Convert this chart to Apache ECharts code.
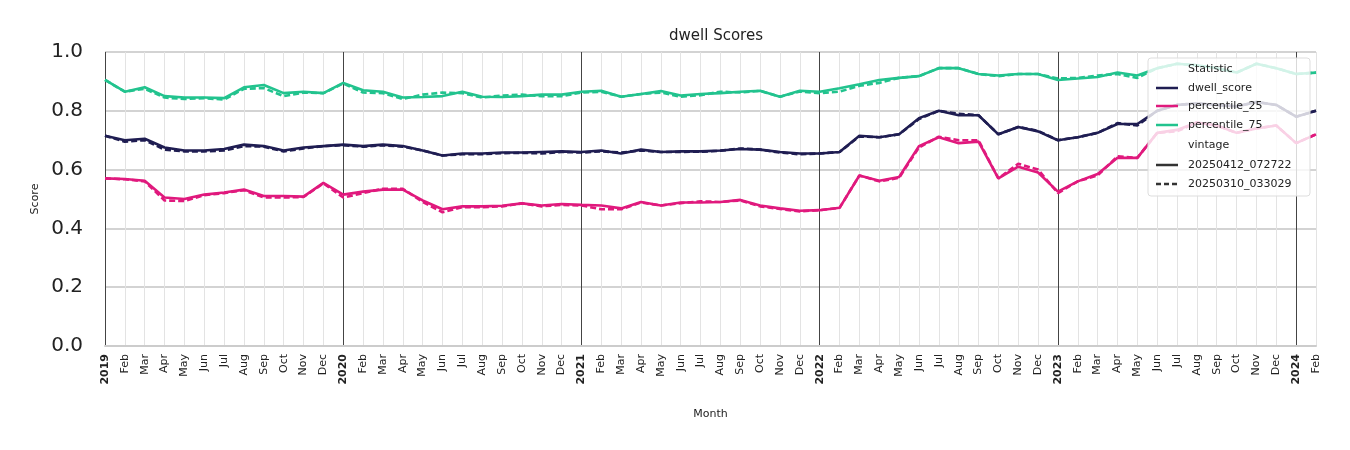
<!DOCTYPE html>
<html><head><meta charset="utf-8">
<script src="https://cdn.jsdelivr.net/npm/echarts@6/dist/echarts.min.js"></script>
<style>html,body{margin:0;padding:0;background:#fff}#c{width:1350px;height:450px}</style>
</head><body><div id="c"></div>
<script>
const months=['Jan','Feb','Mar','Apr','May','Jun','Jul','Aug','Sep','Oct','Nov','Dec'];
const categories=[];
for(let y=2019;y<=2024;y++){for(let m=0;m<12;m++){if(y===2024&&m>1)break;categories.push(m===0?String(y):months[m]);}}
const dwellNew=[.715,.70,.705,.675,.665,.665,.67,.685,.68,.665,.675,.68, .685,.68,.685,.68,.665,.648,.655,.655,.658,.658,.66,.662, .66,.665,.655,.668,.66,.662,.662,.665,.67,.668,.66,.655, .655,.66,.715,.71,.72,.775,.80,.785,.785,.72,.745,.73, .70,.71,.725,.755,.755,.80,.82,.825,.82,.815,.83,.82, .78,.80];
const dwellOld=[.715,.695,.70,.668,.662,.662,.665,.68,.678,.662,.672,.68, .683,.678,.683,.678,.665,.648,.652,.652,.656,.657,.655,.66, .658,.662,.658,.665,.66,.66,.661,.664,.672,.668,.658,.652, .655,.66,.713,.71,.72,.772,.80,.79,.785,.72,.745,.732, .70,.71,.725,.758,.75,.80,.82,.825,.82,.815,.83,.82, .78,.80];
const p25New=[.57,.568,.562,.505,.50,.515,.522,.532,.51,.51,.508,.555, .515,.525,.532,.532,.495,.465,.475,.475,.477,.485,.478,.483, .48,.478,.468,.49,.478,.488,.488,.49,.497,.478,.468,.46, .462,.47,.58,.562,.575,.68,.71,.69,.695,.57,.61,.59, .525,.56,.585,.64,.64,.725,.735,.76,.75,.725,.74,.75, .69,.72];
const p25Old=[.57,.567,.56,.495,.493,.513,.52,.53,.505,.505,.507,.553, .505,.52,.535,.535,.49,.455,.472,.472,.475,.485,.475,.48, .478,.465,.465,.488,.478,.486,.492,.49,.495,.475,.466,.458, .462,.47,.58,.56,.572,.675,.712,.70,.70,.57,.62,.60, .52,.56,.58,.645,.64,.725,.73,.76,.75,.725,.74,.75, .69,.72];
const p75New=[.905,.865,.88,.85,.845,.845,.843,.88,.888,.86,.865,.86, .895,.87,.865,.845,.847,.85,.865,.848,.847,.85,.855,.855, .865,.868,.848,.857,.867,.852,.857,.86,.865,.868,.848,.868, .865,.877,.89,.905,.912,.918,.945,.945,.925,.92,.925,.925, .905,.91,.915,.93,.92,.945,.96,.955,.945,.93,.96,.945, .925,.93];
const p75Old=[.905,.865,.875,.845,.84,.843,.838,.875,.877,.85,.862,.86, .893,.862,.86,.84,.855,.862,.86,.845,.852,.855,.85,.85, .862,.865,.848,.857,.862,.848,.853,.865,.862,.868,.848,.866, .86,.865,.885,.895,.912,.918,.945,.945,.925,.918,.925,.925, .91,.912,.92,.925,.912,.945,.96,.955,.945,.93,.96,.945, .925,.93];
const C={d:'#1f1d52',p25:'#e0197d',p75:'#22c38e'};
const splitColors=['#444'].concat(Array(11).fill('#e3e3e3'));
function s(name,data,color,dash,z){return{name,type:'line',data,symbol:'none',z,lineStyle:{color,width:2.6,type:dash?[6,3]:'solid'},itemStyle:{color}};}
const chart=echarts.init(document.getElementById('c'));
const lx=1148,ly=58,font='DejaVu Sans';
function legLine(y,color,dash){return{type:'line',shape:{x1:lx+8,y1:y,x2:lx+30,y2:y},style:{stroke:color,lineWidth:2.5,lineDash:dash?[5,3]:null},z:101};}
function legText(y,t){return{type:'text',x:lx+40,y:y,style:{text:t,fill:'#222',font:'11px '+font,verticalAlign:'middle'},z:101};}
chart.setOption({
  animation:false,
  textStyle:{fontFamily:font},
  title:{text:'dwell Scores',left:711,top:24,textAlign:'center',textStyle:{fontSize:15,fontWeight:'normal',color:'#222',fontFamily:font}},
  grid:{left:105,right:34,top:52,bottom:104},
  xAxis:{type:'category',data:categories,boundaryGap:false,name:'Month',nameLocation:'middle',nameGap:63,
    nameTextStyle:{fontSize:11,color:'#222'},
    axisLine:{lineStyle:{color:'#ccc',width:2}},axisTick:{show:false},
    axisLabel:{interval:0,rotate:90,fontSize:11,color:'#222',
      formatter:v=>/^\d{4}$/.test(v)?'{b|'+v+'}':v,rich:{b:{fontWeight:'bold',fontSize:11}}},
    splitLine:{show:true,interval:0,lineStyle:{color:splitColors,width:1}}},
  yAxis:{type:'value',min:0,max:1,interval:0.2,name:'Score',nameLocation:'middle',nameGap:64,
    nameTextStyle:{fontSize:11,color:'#222'},
    axisLine:{show:false},axisTick:{show:false},
    axisLabel:{fontSize:20,color:'#222',formatter:v=>v.toFixed(1),margin:22},
    splitLine:{lineStyle:{color:'#c4c4c4',width:1.5}}},
  series:[s('dwell_score',dwellNew,C.d,false,3),s('dwell_score old',dwellOld,C.d,true,2),
    s('percentile_25',p25New,C.p25,false,3),s('percentile_25 old',p25Old,C.p25,true,2),
    s('percentile_75',p75New,C.p75,false,3),s('percentile_75 old',p75Old,C.p75,true,2)],
  graphic:[
    {type:'rect',shape:{x:lx,y:ly,width:162,height:138,r:3},style:{fill:'rgba(255,255,255,0.8)',stroke:'#ddd',lineWidth:1},z:100},
    {type:'text',x:lx+40,y:ly+11,style:{text:'Statistic',fill:'#222',font:'11px '+font,verticalAlign:'middle'},z:101},
    legLine(ly+30,C.d,false),legText(ly+30,'dwell_score'),
    legLine(ly+48,C.p25,false),legText(ly+48,'percentile_25'),
    legLine(ly+67,C.p75,false),legText(ly+67,'percentile_75'),
    {type:'text',x:lx+40,y:ly+87,style:{text:'vintage',fill:'#222',font:'11px '+font,verticalAlign:'middle'},z:101},
    legLine(ly+107,'#333',false),legText(ly+107,'20250412_072722'),
    legLine(ly+126,'#333',true),legText(ly+126,'20250310_033029')
  ]
});
</script></body></html>
